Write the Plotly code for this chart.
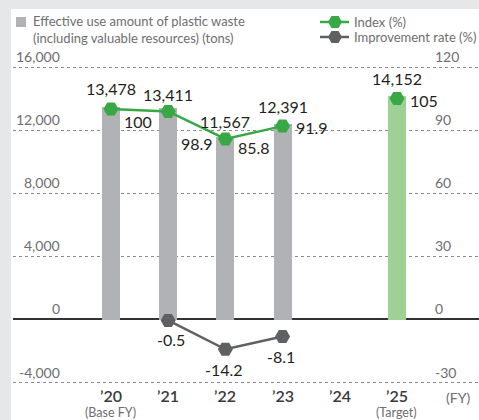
import plotly.graph_objects as go

# ---- data ----
years = ["’20", "’21", "’22", "’23", "’24", "’25"]
year_notes = ["(Base FY)", "", "", "", "", "(Target)"]
amount_tons = [13478, 13411, 11567, 12391, None, 14152]
index_pct = [100, 98.9, 85.8, 91.9, None, 105]
improvement_pct = [None, -0.5, -14.2, -8.1, None, None]
left_ticks = [16000, 12000, 8000, 4000, 0, -4000]
right_ticks = [120, 90, 60, 30, 0, -30]

# ---- styling ----
W, H = 479, 420
FONT = "Lato"
BAR_GRAY = "#b1b2b5"
BAR_GREEN = "#9fd096"
LINE_GREEN = "#38a844"
LINE_GRAY = "#5f6063"
TEXT_DARK = "#231f20"
TEXT_GRAY = "#6d6e70"

bar_colors = [BAR_GRAY] * 5 + [BAR_GREEN]

# label offsets in pixels (xshift, yshift)
bar_label_shift = [18, 13, 15, 17, 0, 18]
index_label_shift = [(11, -12), (11, -32), (11, -9), (11, -1), (0, 0), (11, -2)]
impr_label_shift = [(0, 0), (3, -19), (-1, -20), (-2, -20), (0, 0), (0, 0)]

# pixel -> paper helpers (margins are zero, so paper == full figure)
def px(x):
    return x / W

def py(y):
    return 1 - y / H

# left axis range and matching right axis range (4000 tons <-> 30 %)
y_lo, y_hi = -4200, 16200
ratio = 30 / 4000
y2_lo, y2_hi = y_lo * ratio, y_hi * ratio

plot_top_px, plot_bot_px = 63.85, 385.66
plot_left_px = 13
x_lo, x_hi = -1.713, 6.434

fig = go.Figure()

fig.add_trace(go.Bar(
    x=years, y=amount_tons, marker=dict(color=bar_colors, line=dict(width=0)),
    width=0.315, showlegend=False, hoverinfo="skip",
))

fig.add_trace(go.Scatter(
    x=years, y=index_pct, yaxis="y2", mode="lines+markers",
    line=dict(color=LINE_GREEN, width=2.5),
    marker=dict(symbol="hexagon2", size=15, color=LINE_GREEN),
    connectgaps=False, showlegend=False, hoverinfo="skip",
))

fig.add_trace(go.Scatter(
    x=years, y=improvement_pct, yaxis="y2", mode="lines+markers",
    line=dict(color=LINE_GRAY, width=2.5),
    marker=dict(symbol="hexagon2", size=15, color=LINE_GRAY),
    connectgaps=False, showlegend=False, hoverinfo="skip",
))

annotations = []
shapes = []

# white panel on the gray page
shapes.append(dict(type="rect", xref="paper", yref="paper",
                   x0=px(11), x1=px(W + 2), y0=py(9), y1=py(H + 2),
                   fillcolor="white", line=dict(width=0), layer="below"))

# value labels on bars
for yr, v, dy in zip(years, amount_tons, bar_label_shift):
    if v is None:
        continue
    annotations.append(dict(x=yr, y=v, xref="x", yref="y", text=f"{v:,}",
                            showarrow=False, xanchor="center", yanchor="middle",
                            yshift=dy, font=dict(size=16, color=TEXT_DARK)))

# index labels
for yr, v, (dx, dy) in zip(years, index_pct, index_label_shift):
    if v is None:
        continue
    annotations.append(dict(x=yr, y=v, xref="x", yref="y2", text=f"{v:g}",
                            showarrow=False, xanchor="left", yanchor="middle",
                            xshift=dx, yshift=dy, font=dict(size=16, color=TEXT_DARK)))

# improvement labels
for yr, v, (dx, dy) in zip(years, improvement_pct, impr_label_shift):
    if v is None:
        continue
    annotations.append(dict(x=yr, y=v, xref="x", yref="y2", text=f"{v:g}",
                            showarrow=False, xanchor="center", yanchor="middle",
                            xshift=dx, yshift=dy, font=dict(size=16, color=TEXT_DARK)))

# axis labels sitting above their gridlines
for t in left_ticks:
    annotations.append(dict(x=px(62), y=t, xref="paper", yref="y", text=f"{t:,}",
                            showarrow=False, xanchor="right", yanchor="bottom",
                            yshift=0, font=dict(size=14, color=TEXT_GRAY)))
for t in right_ticks:
    annotations.append(dict(x=px(433), y=t, xref="paper", yref="y2", text=f"{t}",
                            showarrow=False, xanchor="left", yanchor="bottom",
                            yshift=0, font=dict(size=14, color=TEXT_GRAY)))

# year labels and the notes beneath them
for yr in years:
    annotations.append(dict(x=yr, y=py(395), xref="x", yref="paper", text=yr,
                            showarrow=False, xanchor="center", yanchor="middle",
                            font=dict(size=16, color="#3a3a3a", weight=600)))
for yr, note in zip(years, year_notes):
    if note:
        annotations.append(dict(x=yr, y=py(412), xref="x", yref="paper", text=note,
                                showarrow=False, xanchor="center", yanchor="middle",
                                borderpad=0,
                                font=dict(size=12.5, color=TEXT_GRAY)))
annotations.append(dict(x=px(458), y=py(397), xref="paper", yref="paper", text="(FY)",
                        showarrow=False, xanchor="center", yanchor="middle",
                        font=dict(size=14, color=TEXT_GRAY)))

# legend
shapes.append(dict(type="rect", xref="paper", yref="paper",
                   x0=px(16), x1=px(26), y0=py(17), y1=py(27),
                   fillcolor=BAR_GRAY, line=dict(width=0)))
annotations.append(dict(x=px(31), y=py(29.5), xref="paper", yref="paper",
                        text="Effective use amount of plastic waste<br>(including valuable resources) (tons)",
                        showarrow=False, xanchor="left", yanchor="middle", align="left",
                        font=dict(size=13, color=TEXT_GRAY)))


def hexagon_path(cx, cy, rx=7, ry=6):
    pts = [(cx - rx, cy), (cx - rx / 2, cy - ry), (cx + rx / 2, cy - ry),
           (cx + rx, cy), (cx + rx / 2, cy + ry), (cx - rx / 2, cy + ry)]
    return "M " + " L ".join(f"{px(a):.5f},{py(b):.5f}" for a, b in pts) + " Z"


for cy, color, label in [(22, LINE_GREEN, "Index (%)"), (37, LINE_GRAY, "Improvement rate (%)")]:
    shapes.append(dict(type="line", xref="paper", yref="paper",
                       x0=px(320), x1=px(349), y0=py(cy), y1=py(cy),
                       line=dict(color=color, width=2.5)))
    shapes.append(dict(type="path", xref="paper", yref="paper",
                       path=hexagon_path(335, cy), fillcolor=color, line=dict(width=0)))
    annotations.append(dict(x=px(352), y=py(cy), xref="paper", yref="paper", text=label,
                            showarrow=False, xanchor="left", yanchor="middle",
                            font=dict(size=13, color=TEXT_GRAY)))

fig.update_layout(
    width=W, height=H,
    margin=dict(l=0, r=0, t=0, b=0),
    paper_bgcolor="#e6e7e8",
    plot_bgcolor="rgba(0,0,0,0)",
    font=dict(family=FONT, color=TEXT_DARK),
    bargap=0,
    xaxis=dict(
        type="category", domain=[px(plot_left_px), 1], range=[x_lo, x_hi],
        showgrid=False, zeroline=False, showline=False, ticks="",
        showticklabels=False, automargin=False, fixedrange=True,
    ),
    yaxis=dict(
        domain=[py(plot_bot_px), py(plot_top_px)], range=[y_lo, y_hi],
        tickvals=left_ticks, showticklabels=False, ticks="",
        showgrid=True, gridcolor="#8a8b8d", gridwidth=1, griddash="dot",
        zeroline=True, zerolinecolor="#333333", zerolinewidth=1.5,
        showline=False, automargin=False, fixedrange=True,
    ),
    yaxis2=dict(
        overlaying="y", side="right", range=[y2_lo, y2_hi],
        showgrid=False, zeroline=False, showticklabels=False, ticks="",
        automargin=False, fixedrange=True,
    ),
    annotations=annotations,
    shapes=shapes,
    showlegend=False,
)

fig.write_html("out.html")
